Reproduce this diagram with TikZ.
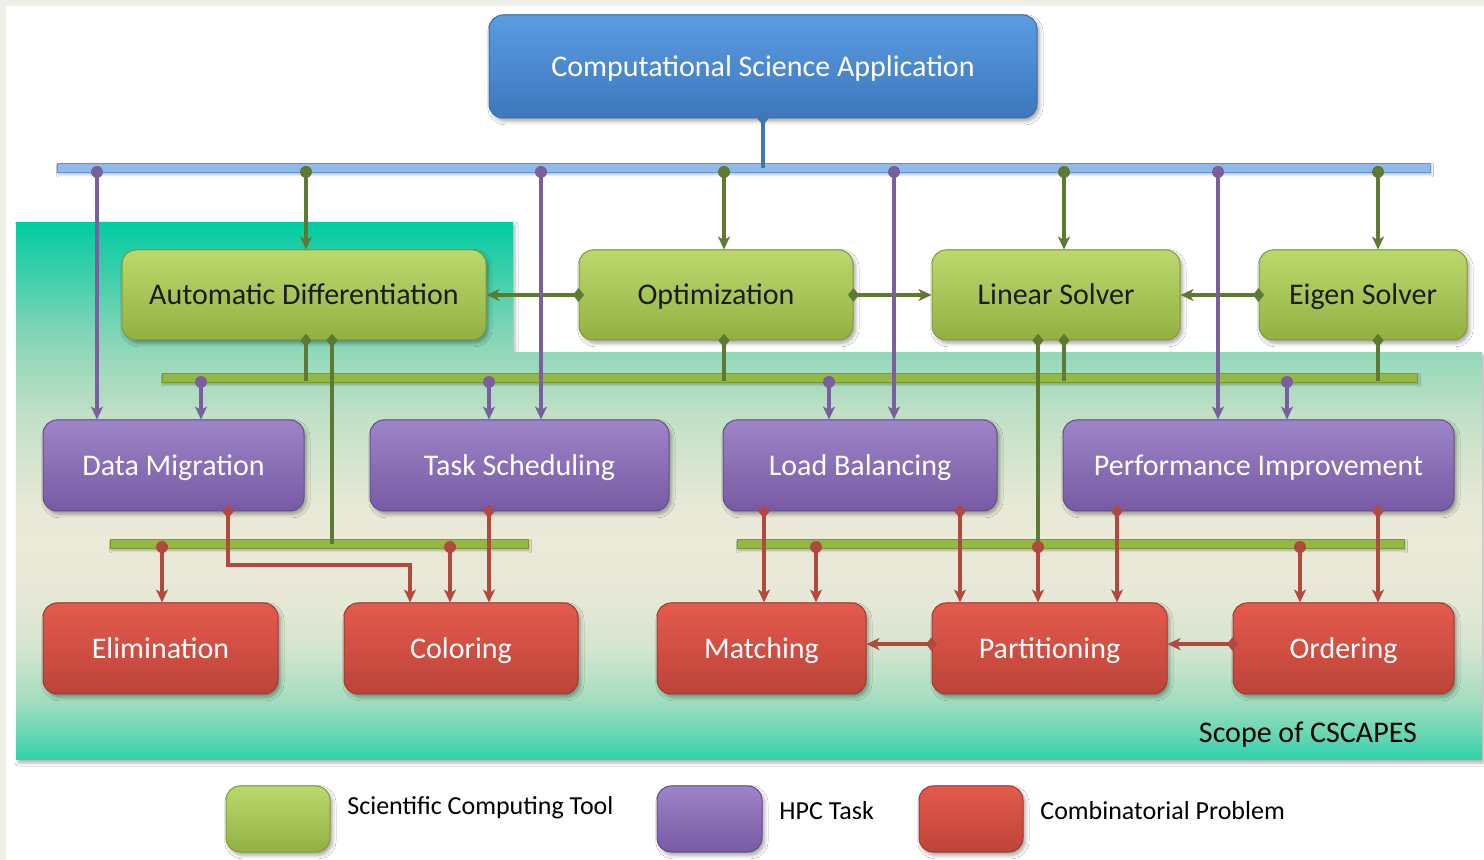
\documentclass[tikz,border=0pt]{standalone}
\usepackage{fontspec}
\setmainfont{Carlito}
\usetikzlibrary{arrows.meta,shadows.blur}

% palette
\definecolor{pagegray}{HTML}{EFEFE9}
\definecolor{grnTop}{HTML}{BAD86C}
\definecolor{grnBot}{HTML}{93B143}
\definecolor{grnEdge}{HTML}{7F9B36}
\definecolor{grnText}{HTML}{1C1C1C}
\definecolor{purTop}{HTML}{9E84C8}
\definecolor{purBot}{HTML}{775AA3}
\definecolor{purEdge}{HTML}{654C8E}
\definecolor{redTop}{HTML}{E45A4E}
\definecolor{redBot}{HTML}{BD4338}
\definecolor{redEdge}{HTML}{A23830}
\definecolor{bluTop}{HTML}{5A9CE2}
\definecolor{bluBot}{HTML}{3D77BC}
\definecolor{bluEdge}{HTML}{3A6DAA}
\definecolor{purLine}{HTML}{7B5E9E}
\definecolor{grnLine}{HTML}{5E7A32}
\definecolor{redLine}{HTML}{B3483F}
\definecolor{bluLine}{HTML}{3F74B5}
\definecolor{busBlue}{HTML}{8EBBEA}
\definecolor{busBlueEdge}{HTML}{5F93D3}
\definecolor{busGreen}{HTML}{94B844}
\definecolor{busGreenEdge}{HTML}{779A2C}

% scope gradient, teal at both ends and pale in the middle
\definecolor{s222}{HTML}{00CCA3}
\definecolor{s250}{HTML}{22CDA6}
\definecolor{s330}{HTML}{7DD5B5}
\definecolor{s380}{HTML}{A8DBBF}
\definecolor{s420}{HTML}{C3E1C8}
\definecolor{s500}{HTML}{E6E8D5}
\definecolor{s540}{HTML}{ECEAD9}
\definecolor{s600}{HTML}{E6E8D6}
\definecolor{s650}{HTML}{D2E5CF}
\definecolor{s700}{HTML}{A4DDC0}
\definecolor{s740}{HTML}{5DD5B2}
\definecolor{s760}{HTML}{2CD1A9}
\pgfdeclareverticalshading{scopeshade}{100bp}{%
  color(0bp)=(s760); color(25bp)=(s760); color(26.9bp)=(s740);
  color(30.6bp)=(s700); color(35.2bp)=(s650); color(39.9bp)=(s600);
  color(45.5bp)=(s540); color(49.2bp)=(s500); color(56.6bp)=(s420);
  color(60.3bp)=(s380); color(65bp)=(s330); color(72.4bp)=(s250);
  color(75bp)=(s222); color(100bp)=(s222)}

\newcommand\boxfont{\fontsize{15}{18}\selectfont}
\newcommand\legfont{\fontsize{13}{16}\selectfont}
\newcommand\dmd[2]{\fill[#1] (#2) +(0,3.4pt) -- +(2.8pt,0) -- +(0,-3.4pt) -- +(-2.8pt,0) -- cycle;}
\newcommand\tapdot[2]{\fill[#1] (#2) circle (3pt);}

\tikzset{
  boxbase/.style={rounded corners=7pt, inner sep=0pt, align=center, font=\boxfont,
    text height=12pt, text depth=2.4pt, line width=0.5pt,
    blur shadow={shadow xshift=1.2pt, shadow yshift=-1.6pt, shadow opacity=35, shadow blur radius=1.8pt}},
  sctbox/.style={boxbase, draw=grnEdge, top color=grnTop, bottom color=grnBot, text=grnText},
  hpcbox/.style={boxbase, draw=purEdge, top color=purTop, bottom color=purBot, text=white},
  combox/.style={boxbase, draw=redEdge, top color=redTop, bottom color=redBot, text=white},
  appbox/.style={boxbase, draw=bluEdge, top color=bluTop, bottom color=bluBot, text=white},
  busbase/.style={rectangle, inner sep=0pt, minimum height=4.8pt, line width=0.5pt,
    blur shadow={shadow xshift=0.8pt, shadow yshift=-1pt, shadow opacity=25, shadow blur radius=1pt}},
  bluebus/.style={busbase, fill=busBlue, draw=busBlueEdge},
  greenbus/.style={busbase, fill=busGreen, draw=busGreenEdge},
  tip/.style={-{Stealth[length=6.5pt, width=6pt, inset=1.8pt]}},
  pconn/.style={draw=purLine, line width=1.7pt, tip},
  gconn/.style={draw=grnLine, line width=1.7pt, tip},
  rconn/.style={draw=redLine, line width=1.7pt, tip},
  gline/.style={draw=grnLine, line width=1.7pt},
  bline/.style={draw=bluLine, line width=1.7pt},
}

\begin{document}
\begin{tikzpicture}[x=0.5pt, y=-0.5pt]
\useasboundingbox (0,0) rectangle (1484,860);
\fill[pagegray] (0,0) rectangle (1484,860);
\fill[white] (6,6) rectangle (1484,860);

% scope of the project
\shade[shading=scopeshade,
  blur shadow={shadow xshift=1pt, shadow yshift=-1.5pt, shadow opacity=30, shadow blur radius=1.5pt}]
  (16,222) -- (513,222) -- (513,352) -- (1482,352) -- (1482,760) -- (16,760) -- cycle;
\node[font=\boxfont, text=black] (scope) at (1308,735) {Scope of CSCAPES};

% buses
\node[bluebus, minimum width=686.5pt] (topbus) at (743.5,168) {};
\node[greenbus, minimum width=627.5pt] (gbus) at (789.5,378) {};
\node[greenbus, minimum width=209pt] (lbusl) at (319,544) {};
\node[greenbus, minimum width=333.5pt] (lbusr) at (1070.5,544) {};

% boxes
\node[appbox, minimum width=274pt, minimum height=51.5pt] (csa) at (763,66.5) {Computational Science Application};

\node[sctbox, minimum width=182pt, minimum height=45pt] (ad) at (304,295) {Automatic Differentiation};
\node[sctbox, minimum width=137pt, minimum height=45pt] (opt) at (716,295) {Optimization};
\node[sctbox, minimum width=124pt, minimum height=45pt] (ls) at (1056,295) {Linear Solver};
\node[sctbox, minimum width=104pt, minimum height=45pt] (es) at (1363,295) {Eigen Solver};

\node[hpcbox, minimum width=130.5pt, minimum height=45.5pt] (dm) at (173.5,465.5) {Data Migration};
\node[hpcbox, minimum width=149.5pt, minimum height=45.5pt] (ts) at (519.5,465.5) {Task Scheduling};
\node[hpcbox, minimum width=137pt, minimum height=45.5pt] (lb) at (860,465.5) {Load Balancing};
\node[hpcbox, minimum width=195.5pt, minimum height=45.5pt] (pi) at (1258.5,465.5) {Performance Improvement};

\node[combox, minimum width=117.5pt, minimum height=45.5pt] (el) at (160.5,648.5) {Elimination};
\node[combox, minimum width=117pt, minimum height=45.5pt] (co) at (461,648.5) {Coloring};
\node[combox, minimum width=104.5pt, minimum height=45.5pt] (ma) at (761.5,648.5) {Matching};
\node[combox, minimum width=117.5pt, minimum height=45.5pt] (pa) at (1049.5,648.5) {Partitioning};
\node[combox, minimum width=110.5pt, minimum height=45.5pt] (ord) at (1343.5,648.5) {Ordering};

% legend
\node[sctbox, minimum width=52pt, minimum height=33pt] (lg) at (278,819) {};
\node[hpcbox, minimum width=52.5pt, minimum height=33pt] (lp) at (709.5,819) {};
\node[combox, minimum width=52pt, minimum height=33pt] (lr) at (971,819) {};
\node[font=\legfont, anchor=west, inner sep=0pt] (lgt) at (347,808) {Scientific Computing Tool};
\node[font=\legfont, anchor=west, inner sep=0pt] (lpt) at (779,811) {HPC Task};
\node[font=\legfont, anchor=west, inner sep=0pt] (lrt) at (1040,811) {Combinatorial Problem};

% application to the top bus
\draw[bline] (csa.south) -- (csa.south |- topbus.center);
\dmd{bluLine}{csa.south}

% links among the scientific computing tools
\draw[gconn] (opt.west) -- (ad.east);  \dmd{grnLine}{opt.west}
\draw[gconn] (opt.east) -- (ls.west);  \dmd{grnLine}{opt.east}
\draw[gconn] (es.west) -- (ls.east);   \dmd{grnLine}{es.west}

% taps on the top bus
\coordinate (tDM) at (97,172);
\coordinate (tAD) at (306,172);
\coordinate (tTS) at (541,172);
\coordinate (tOP) at (724,172);
\coordinate (tLB) at (894,172);
\coordinate (tLS) at (1064,172);
\coordinate (tPI) at (1218,172);
\coordinate (tES) at (1378,172);
\draw[gconn] (tAD) -- (tAD |- ad.north);
\draw[gconn] (tOP) -- (tOP |- opt.north);
\draw[gconn] (tLS) -- (tLS |- ls.north);
\draw[gconn] (tES) -- (tES |- es.north);
\foreach \t in {tAD,tOP,tLS,tES} {\tapdot{grnLine}{\t}}

% tools down to the middle bus
\coordinate (bAD) at (306,381);
\coordinate (bOP) at (724,381);
\coordinate (bLS) at (1064,381);
\coordinate (bES) at (1378,381);
\draw[gline] (bAD |- ad.south) -- (bAD);
\draw[gline] (bOP |- opt.south) -- (bOP);
\draw[gline] (bLS |- ls.south) -- (bLS);
\draw[gline] (bES |- es.south) -- (bES);
\coordinate (lAD) at (332,544);
\coordinate (lLS) at (1038,544);
\draw[gline] (lAD |- ad.south) -- (lAD);
\draw[gline] (lLS |- ls.south) -- (lLS);
\foreach \t in {bAD,bOP,bLS,bES,lAD,lLS} {\dmd{grnLine}{\t |- ad.south}}

% HPC tasks fed from the top bus
\draw[pconn] (tDM) -- (tDM |- dm.north);
\draw[pconn] (tTS) -- (tTS |- ts.north);
\draw[pconn] (tLB) -- (tLB |- lb.north);
\draw[pconn] (tPI) -- (tPI |- pi.north);
\foreach \t in {tDM,tTS,tLB,tPI} {\tapdot{purLine}{\t}}

% HPC tasks fed from the middle bus
\coordinate (gDM) at (201,382);
\coordinate (gTS) at (489,382);
\coordinate (gLB) at (829,382);
\coordinate (gPI) at (1287,382);
\draw[pconn] (gDM) -- (gDM |- dm.north);
\draw[pconn] (gTS) -- (gTS |- ts.north);
\draw[pconn] (gLB) -- (gLB |- lb.north);
\draw[pconn] (gPI) -- (gPI |- pi.north);
\foreach \t in {gDM,gTS,gLB,gPI} {\tapdot{purLine}{\t}}

% HPC tasks down to combinatorial problems
\coordinate (k1) at (228,565);
\coordinate (k2) at (410,565);
\draw[rconn] (k1 |- dm.south) -- (k1) -- (k2) -- (k2 |- co.north);
\dmd{redLine}{k1 |- dm.south}
\coordinate (vTS) at (489,565);
\coordinate (vLBa) at (764,565);
\coordinate (vLBb) at (960,565);
\coordinate (vPIa) at (1117,565);
\coordinate (vPIb) at (1378,565);
\draw[rconn] (vTS |- ts.south) -- (vTS |- co.north);
\draw[rconn] (vLBa |- lb.south) -- (vLBa |- ma.north);
\draw[rconn] (vLBb |- lb.south) -- (vLBb |- pa.north);
\draw[rconn] (vPIa |- pi.south) -- (vPIa |- pa.north);
\draw[rconn] (vPIb |- pi.south) -- (vPIb |- ord.north);
\foreach \t in {vTS,vLBa,vLBb,vPIa,vPIb} {\dmd{redLine}{\t |- ts.south}}

% combinatorial problems fed from the lower buses
\coordinate (rEL) at (162,547);
\coordinate (rCO) at (450,547);
\coordinate (rMA) at (816,547);
\coordinate (rPA) at (1038,547);
\coordinate (rOR) at (1300,547);
\draw[rconn] (rEL) -- (rEL |- el.north);
\draw[rconn] (rCO) -- (rCO |- co.north);
\draw[rconn] (rMA) -- (rMA |- ma.north);
\draw[rconn] (rPA) -- (rPA |- pa.north);
\draw[rconn] (rOR) -- (rOR |- ord.north);
\foreach \t in {rEL,rCO,rMA,rPA,rOR} {\tapdot{redLine}{\t}}

% links among the combinatorial problems
\draw[rconn] ([yshift=2.2pt]pa.west) -- ([yshift=2.2pt]ma.east);
\dmd{redLine}{[yshift=2.2pt]pa.west}
\draw[rconn] ([yshift=2.2pt]ord.west) -- ([yshift=2.2pt]pa.east);
\dmd{redLine}{[yshift=2.2pt]ord.west}
\end{tikzpicture}
\end{document}
